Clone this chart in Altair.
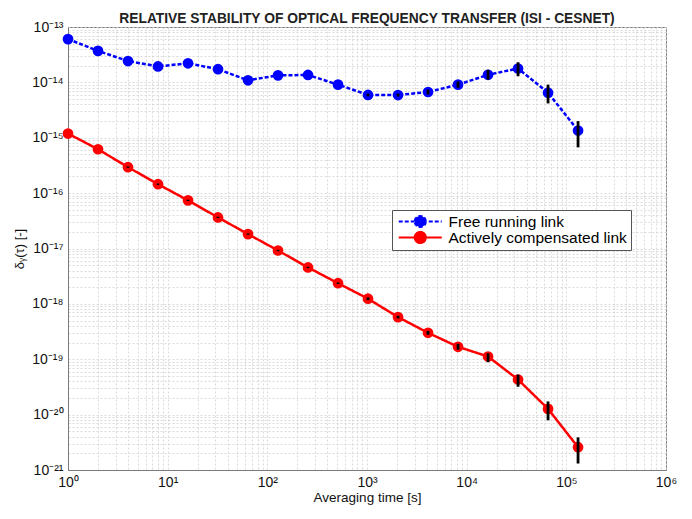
import json
import altair as alt
import pandas as pd

# ---- data ----
tau = [1, 2, 4, 8, 16, 32, 64, 128, 256, 512, 1024, 2048, 4096, 8192,
       16384, 32768, 65536, 131072]

free_val = [6.05e-14, 3.7e-14, 2.43e-14, 1.94e-14, 2.21e-14, 1.73e-14, 1.09e-14,
            1.34e-14, 1.36e-14, 9.1e-15, 5.93e-15, 5.9e-15, 6.7e-15, 9.1e-15,
            1.37e-14, 1.78e-14, 6.5e-15, 1.35e-15]
free_lo = [6.05e-14, 3.7e-14, 2.43e-14, 1.94e-14, 2.21e-14, 1.73e-14, 1.09e-14,
           1.34e-14, 1.36e-14, 9.1e-15, 5.6e-15, 5.55e-15, 6.05e-15, 8.0e-15,
           1.12e-14, 1.29e-14, 4.17e-15, 6.7e-16]
free_hi = [6.05e-14, 3.7e-14, 2.43e-14, 1.94e-14, 2.21e-14, 1.73e-14, 1.09e-14,
           1.34e-14, 1.36e-14, 9.1e-15, 6.3e-15, 6.25e-15, 7.4e-15, 1.04e-14,
           1.69e-14, 2.31e-14, 9.1e-15, 2.0e-15]

comp_val = [1.19e-15, 6.2e-16, 2.94e-16, 1.45e-16, 7.4e-17, 3.64e-17, 1.82e-17,
            9.2e-18, 4.55e-18, 2.36e-18, 1.24e-18, 5.77e-19, 3.0e-19, 1.68e-19,
            1.12e-19, 4.3e-20, 1.27e-20, 2.58e-21]
comp_lo = [1.19e-15, 6.2e-16, 2.86e-16, 1.41e-16, 7.2e-17, 3.54e-17, 1.77e-17,
           8.95e-18, 4.42e-18, 2.29e-18, 1.17e-18, 5.45e-19, 2.77e-19, 1.49e-19,
           8.85e-20, 3.19e-20, 7.9e-21, 1.31e-21]
comp_hi = [1.19e-15, 6.2e-16, 3.02e-16, 1.49e-16, 7.6e-17, 3.74e-17, 1.87e-17,
           9.45e-18, 4.68e-18, 2.43e-18, 1.31e-18, 6.1e-19, 3.25e-19, 1.9e-19,
           1.28e-19, 5.27e-20, 1.73e-20, 3.89e-21]

series = ["Free running link", "Actively compensated link"]
colors = ["#0000ff", "#ff0000"]

x_exps = list(range(0, 7))
y_exps = list(range(-21, -12))

# ---- tables ----
rows = []
for name, vals, los, his in [(series[0], free_val, free_lo, free_hi),
                             (series[1], comp_val, comp_lo, comp_hi)]:
    for t, v, lo, hi in zip(tau, vals, los, his):
        rows.append({"series": name, "tau": t, "value": v, "lo": lo, "hi": hi})
df = pd.DataFrame(rows)

SUP = {"0": "\u2070", "1": "\u00b9", "2": "\u00b2", "3": "\u00b3", "4": "\u2074",
       "5": "\u2075", "6": "\u2076", "7": "\u2077", "8": "\u2078", "9": "\u2079",
       "-": "\u207b"}


def sup(n):
    return "10" + "".join(SUP[c] for c in str(n))


def all_ticks(exps):
    vals = []
    for e in exps[:-1]:
        for k in range(1, 10):
            vals.append(k * 10.0 ** e)
    vals.append(10.0 ** exps[-1])
    return vals


x_vals = all_ticks(x_exps)
y_vals = all_ticks(y_exps)

x_labels = json.dumps([sup(e) for e in x_exps], ensure_ascii=False)
y_labels = json.dumps([sup(e) for e in y_exps], ensure_ascii=False)

LOG = "(log(datum.value)/LN10)"
x_expr = f"abs({LOG} - round({LOG})) < 0.001 ? {x_labels}[round({LOG}) - ({x_exps[0]})] : ''"
y_expr = f"abs({LOG} - round({LOG})) < 0.001 ? {y_labels}[round({LOG}) - ({y_exps[0]})] : ''"

FONT = "Liberation Sans"

x_enc = alt.X(
    "tau:Q",
    scale=alt.Scale(type="log", domain=[10.0 ** x_exps[0], 10.0 ** x_exps[-1]], nice=False),
    axis=alt.Axis(values=x_vals, labelExpr=x_expr, title="Averaging time [s]",
                  grid=True, ticks=False, labelOverlap=False, labelFontSize=14,
                  labelPadding=5, titleFontSize=13.5, titleFontWeight="normal",
                  titlePadding=1, labelFlush=False),
)
y_enc = alt.Y(
    "value:Q",
    scale=alt.Scale(type="log", domain=[10.0 ** y_exps[0], 10.0 ** y_exps[-1]], nice=False),
    axis=alt.Axis(values=y_vals, labelExpr=y_expr, title="\u03b4\u1d67(\u03c4) [-]",
                  grid=True, ticks=False, labelOverlap=False, labelFontSize=14,
                  labelPadding=5, titleFontSize=13, titleFontWeight="normal",
                  titlePadding=5, labelFlush=False),
)

LEG_PATH = ("M-1,0L7.6,0M4.4,0A1.1,1.1,0,1,1,2.2,0"
            "A1.1,1.1,0,1,1,4.4,0Z")
legend = alt.Legend(title=None, orient="none", legendX=324, legendY=183,
                    symbolType=LEG_PATH, symbolSize=100, symbolStrokeWidth=2.2,
                    labelFontSize=15.5, labelFont=FONT, labelOffset=37,
                    rowPadding=0, padding=4, clipHeight=15,
                    strokeColor="#555555", fillColor="white", labelLimit=300)

dom = alt.Scale(domain=series, range=colors)

base = alt.Chart(df).encode(x=x_enc, y=y_enc)

lines = base.mark_line(strokeWidth=2.5).encode(
    color=alt.Color("series:N", scale=dom, legend=legend),
    strokeDash=alt.StrokeDash("series:N",
                              scale=alt.Scale(domain=series, range=[[4, 2], [1, 0]]),
                              legend=legend),
    detail="series:N",
)
points = base.mark_point(filled=True, size=115, opacity=1, shape="circle").encode(
    fill=alt.Fill("series:N", scale=dom, legend=legend),
)
bars = base.mark_rule(color="black", strokeWidth=2.8).encode(
    y="lo:Q", y2="hi:Q",
)

chart = alt.layer(lines, points, bars).properties(
    width=598, height=443,
    autosize=alt.AutoSizeParams(type="none"),
    padding={"left": 60, "top": 19, "right": 12, "bottom": 35},
    title=alt.Title("RELATIVE STABILITY OF OPTICAL FREQUENCY TRANSFER (ISI - CESNET)",
                    fontSize=13.8, fontWeight="bold", font=FONT, offset=0, dy=6,
                    frame="group", anchor="middle", color="#222222"),
).configure(
    font=FONT,
).configure_view(
    stroke="#7a7a7a", strokeWidth=1,
).configure_axis(
    domainColor="#7a7a7a", gridColor="#d2d2d2", gridDash=[2, 2], gridWidth=0.8,
    labelColor="#111111", titleColor="#111111", labelFont=FONT, titleFont=FONT,
)

chart.save("out.html", embed_options={"renderer": "svg", "actions": False})
